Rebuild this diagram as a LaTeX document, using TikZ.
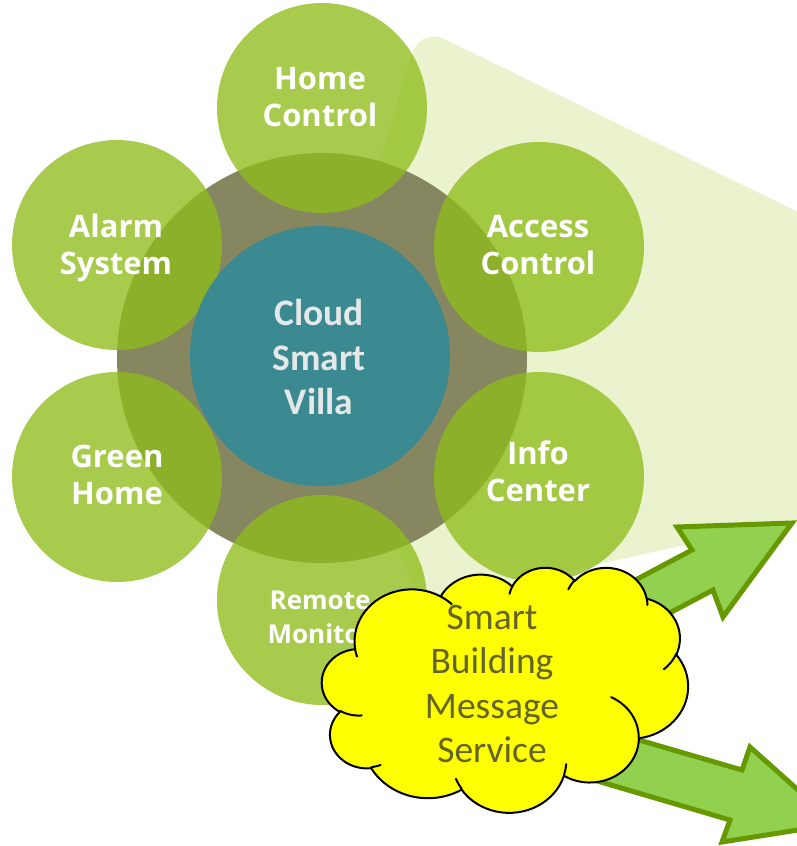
\documentclass[tikz,border=0pt]{standalone}
\usepackage{fontspec}
\newfontfamily\carlito{Carlito}
\newfontfamily\gillish{Open Sans}
\definecolor{paleg}{RGB}{235,242,206}
\definecolor{ringc}{RGB}{134,134,96}
\definecolor{petal}{RGB}{143,189,27}
\definecolor{tealc}{RGB}{60,138,145}
\definecolor{villatext}{RGB}{228,232,232}
\definecolor{arrowfill}{RGB}{146,208,80}
\definecolor{arrowline}{RGB}{102,153,0}
\definecolor{cloudtext}{RGB}{100,100,42}
\definecolor{cloudfill}{RGB}{255,255,0}
\newtoks\cldtoks
\def\cldx{0}\def\cldy{0}
\newcommand\cldstart[2]{\gdef\cldx{#1}\gdef\cldy{#2}\global\cldtoks{}}
\newcommand\cldarc[4]{%
  \pgfmathsetmacro\cldtA{atan2((#1)*sin(#3),(#2)*cos(#3))}%
  \pgfmathsetmacro\cldtB{atan2((#1)*sin((#3)+(#4)),(#2)*cos((#3)+(#4)))}%
  \pgfmathsetmacro\cldtB{(\cldtB<\cldtA) ? \cldtB+360 : \cldtB}%
  \pgfmathsetmacro\cldcx{\cldx-(#1)*cos(\cldtA)}%
  \pgfmathsetmacro\cldcy{\cldy-(#2)*sin(\cldtA)}%
  \edef\cldseg{ -- plot[domain=\cldtA:\cldtB,samples=25,variable=\noexpand\t] ({\cldcx+(#1)*cos(\noexpand\t)},{\cldcy+(#2)*sin(\noexpand\t)})}%
  \global\cldtoks\expandafter{\the\expandafter\cldtoks\cldseg}%
  \pgfmathsetmacro\cldnx{\cldcx+(#1)*cos(\cldtB)}%
  \pgfmathsetmacro\cldny{\cldcy+(#2)*sin(\cldtB)}%
  \xdef\cldx{\cldnx}\xdef\cldy{\cldny}%
}
\newcommand\cldinner[6]{%
  \pgfmathsetmacro\cldtA{atan2((#3)*sin(#5),(#4)*cos(#5))}%
  \pgfmathsetmacro\cldtB{atan2((#3)*sin((#5)+(#6)),(#4)*cos((#5)+(#6)))}%
  \pgfmathsetmacro\cldtB{(\cldtB<\cldtA) ? \cldtB+360 : \cldtB}%
  \pgfmathsetmacro\cldcx{#1-(#3)*cos(\cldtA)}%
  \pgfmathsetmacro\cldcy{#2-(#4)*sin(\cldtA)}%
  \draw[cloudline] plot[domain=\cldtA:\cldtB,samples=15,variable=\t] ({\cldcx+(#3)*cos(\t)},{\cldcy+(#4)*sin(\t)});%
}
\begin{document}
\begin{tikzpicture}[x=1pt,y=-1pt,
  petalsty/.style={circle, fill=petal, fill opacity=0.78, minimum size=210pt, inner sep=0pt, draw=none},
  petaltext/.style={text=white, align=center, font=\gillish\bfseries\fontsize{31}{37}\selectfont},
  arrowsty/.style={fill=arrowfill, draw=arrowline, line width=5pt, line join=miter},
  cloudsty/.style={fill=cloudfill, draw=black, line width=2pt, line join=round},
  cloudline/.style={draw=black, line width=2pt, line cap=round}]
\useasboundingbox (0,0) rectangle (797,846);
\clip (0,0) rectangle (797,846);
% pale background
\fill[paleg, rounded corners=28pt] (322,355) -- (420,27) -- (900,262) -- (900,497) -- (420,604) -- cycle;
% ring and petals
\node[circle, fill=ringc, minimum size=410pt, inner sep=0pt] (ring) at (322,358) {};
\node[petalsty] (home) at (322,108) {};
\node[petalsty] (alarm) at (117,245) {};
\node[petalsty] (access) at (539,247) {};
\node[petalsty] (green) at (117,477) {};
\node[petalsty] (info) at (539,477) {};
\node[petalsty] (remote) at (322,600) {};
\node[circle, fill=tealc, minimum size=260pt, inner sep=0pt] (hub) at (320,356) {};
% labels
\node[petaltext] (homeT) at (320,97) {Home\\Control};
\node[petaltext] (alarmT) at (116,248) {Alarm\\System};
\node[petaltext] (accessT) at (538,245) {Access\\Control};
\node[petaltext] (greenT) at (117,475) {Green\\Home};
\node[petaltext] (infoT) at (538,471) {Info\\Center};
\node[petaltext, font=\gillish\bfseries\fontsize{26}{34}\selectfont] (remoteT) at (320,617) {Remote\\Monitor};
\node[text=villatext, align=center, font=\carlito\bfseries\fontsize{37.5}{44.5}\selectfont] (hubT) at (319,357) {Cloud\\Smart\\Villa};
% arrows
\filldraw[arrowsty] (560,620) -- (692,550) -- (677,527) -- (792,523) -- (723,617) -- (713,590) -- (581,660) -- cycle;
\filldraw[arrowsty] (560,717) -- (742,770) -- (750,747) -- (836,824) -- (722,842) -- (730,820) -- (560,770) -- cycle;
% cloud
\begin{scope}[shift={(322pt,-567pt)}, x={(0.8472pt,0pt)}, y={(0pt,-0.5671pt)}]
\cldstart{39.00}{143.70}
\cldarc{67.53}{91.90}{-190.4875}{123.7805}
\cldarc{53.33}{72.67}{-144.1024}{89.9452}
\cldarc{43.65}{59.45}{-145.8079}{99.7230}
\cldarc{48.57}{65.95}{-130.9861}{117.2417}
\cldarc{53.33}{72.73}{-78.7089}{109.0269}
\cldarc{67.75}{92.20}{-46.2673}{130.2690}
\cldarc{57.85}{78.67}{0.6250}{114.0333}
\cldarc{67.52}{92.15}{22.4516}{115.1726}
\cldarc{77.20}{105.43}{66.2426}{75.7110}
\cldarc{43.60}{59.18}{-274.9421}{146.7356}
\cldarc{43.45}{59.45}{-246.8285}{152.5189}
\edef\cldrun{\noexpand\filldraw[cloudsty] (39.00,143.70)\the\cldtoks -- cycle;}\cldrun
\cldinner{46.93}{261.77}{43.45}{59.45}{86.7420}{26.4295}
\cldinner{69.28}{348.99}{43.60}{59.18}{73.6105}{11.4475}
\cldinner{164.78}{390.90}{67.52}{92.15}{137.6242}{14.0811}
\cldinner{288.27}{347.51}{67.52}{92.15}{6.4533}{15.9984}
\cldinner{341.29}{229.54}{57.85}{78.67}{-70.2924}{70.9174}
\cldinner{417.98}{153.54}{53.33}{72.73}{30.3180}{27.7515}
\cldinner{383.24}{54.26}{48.57}{65.95}{-13.7443}{14.8589}
\cldinner{290.78}{39.52}{48.57}{65.95}{-149.1815}{18.1954}
\cldinner{221.41}{47.20}{43.65}{59.45}{-163.4943}{17.6864}
\cldinner{140.00}{51.92}{67.53}{91.90}{-66.7070}{12.3194}
\cldinner{41.27}{157.89}{67.53}{91.90}{157.6544}{11.8582}
\end{scope}
\node[text=cloudtext, align=center, font=\carlito\fontsize{37.5}{44.5}\selectfont] (sbms) at (492,684) {Smart\\Building\\Message\\Service};
\end{tikzpicture}
\end{document}
